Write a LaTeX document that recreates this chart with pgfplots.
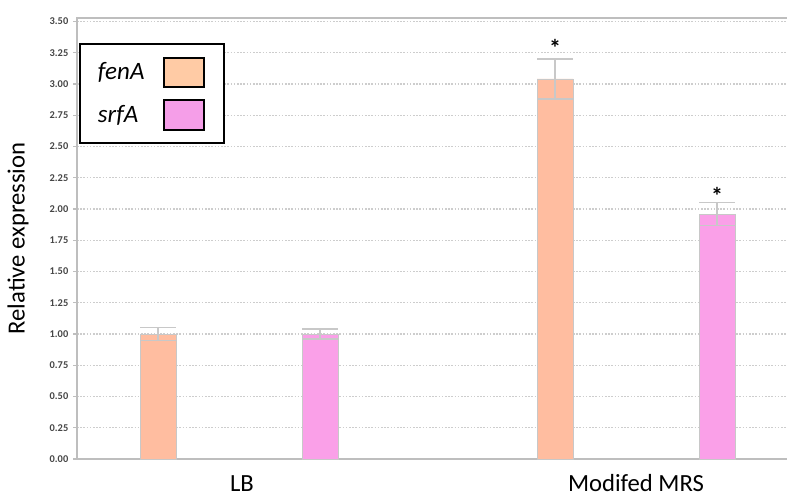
\documentclass[border=0pt]{standalone}
\usepackage{pgfplots}
\pgfplotsset{compat=1.18}
\usepackage{fontspec}
\setmainfont{Carlito}

\definecolor{fenA}{RGB}{255,189,160}
\definecolor{srfA}{RGB}{250,160,232}
\definecolor{fenAkey}{RGB}{255,203,165}
\definecolor{srfAkey}{RGB}{245,158,232}
\definecolor{axisgray}{RGB}{190,190,190}
\definecolor{errgray}{RGB}{200,200,200}
\definecolor{gridgray}{RGB}{205,205,205}
\definecolor{ticktext}{RGB}{70,70,70}

\begin{document}
\begin{tikzpicture}
\useasboundingbox (0,0) rectangle (590.25pt,375pt);
\begin{axis}[
    at={(57.75pt,30.75pt)}, anchor=south west,
    scale only axis,
    width=547.5pt, height=330.75pt,
    xmin=77, xmax=807,
    ymin=0, ymax=3.528,
    axis line style={draw=axisgray, line width=1.2pt},
    ytick={0,0.25,...,3.5},
    yticklabel style={font=\bfseries\fontsize{7.8}{8}\selectfont, text=ticktext},
    /pgf/number format/.cd, fixed, fixed zerofill, precision=2, assume math mode=true,
    /pgfplots/.cd,
    ytick style={draw=axisgray, line width=0.8pt},
    major tick length=3pt,
    tick align=outside,
    ymajorgrids,
    grid style={draw=gridgray, line width=0.8pt, dash pattern=on 1.2pt off 1.2pt},
    xtick={242,636},
    xticklabels={LB, Modifed MRS},
    xtick style={draw=none},
    xticklabel style={font=\fontsize{18.5}{20}\selectfont, text height=13pt, text depth=4pt, yshift=-5pt},
    ylabel={Relative expression},
    every axis y label/.style={at={(rel axis cs:0,0.5)}, rotate=90, anchor=center,
        yshift=44.25pt, font=\fontsize{18.5}{20}\selectfont},
    legend style={at={(0.0027,0.9433)}, anchor=north west, draw=black, line width=1.5pt,
        font=\itshape\fontsize{18.75}{20}\selectfont, inner xsep=11.5pt, inner ysep=9.5pt,
        row sep=8.5pt, column sep=12pt},
    legend cell align=left,
    legend plot pos=right,
]
\addplot[ybar, bar width=27pt, bar shift=0pt, fill=fenA, draw=errgray, line width=0.5pt,
    legend image code/.code={\draw[draw=black, line width=1.5pt, fill=fenAkey] (0pt,-11pt) rectangle (30pt,11pt);
        \path (33pt,0pt);},
    error bars/.cd, y dir=both, y explicit,
    error bar style={draw=errgray, line width=0.9pt},
    error mark options={rotate=90, mark size=13.5pt, draw=errgray, line width=0.9pt}]
    coordinates {(158,1.00) +- (0,0.053) (555,3.04) +- (0,0.16)};
\addlegendentry{fenA}
\addplot[ybar, bar width=27pt, bar shift=0pt, fill=srfA, draw=errgray, line width=0.5pt,
    legend image code/.code={\draw[draw=black, line width=1.5pt, fill=srfAkey] (0pt,-11pt) rectangle (30pt,11pt);
        \path (33pt,0pt);},
    error bars/.cd, y dir=both, y explicit,
    error bar style={draw=errgray, line width=0.9pt},
    error mark options={rotate=90, mark size=13.5pt, draw=errgray, line width=0.9pt}]
    coordinates {(320,1.00) +- (0,0.04) (717,1.96) +- (0,0.09)};
\addlegendentry{srfA}
\addplot[draw=none, mark=none, forget plot, point meta=explicit symbolic,
    nodes near coords, nodes near coords style={anchor=center, font=\bfseries\fontsize{18}{18}\selectfont, inner sep=0pt, yshift=-3pt}]
    coordinates {(555,3.32) [*] (717,2.14) [*]};
\end{axis}
\end{tikzpicture}
\end{document}
